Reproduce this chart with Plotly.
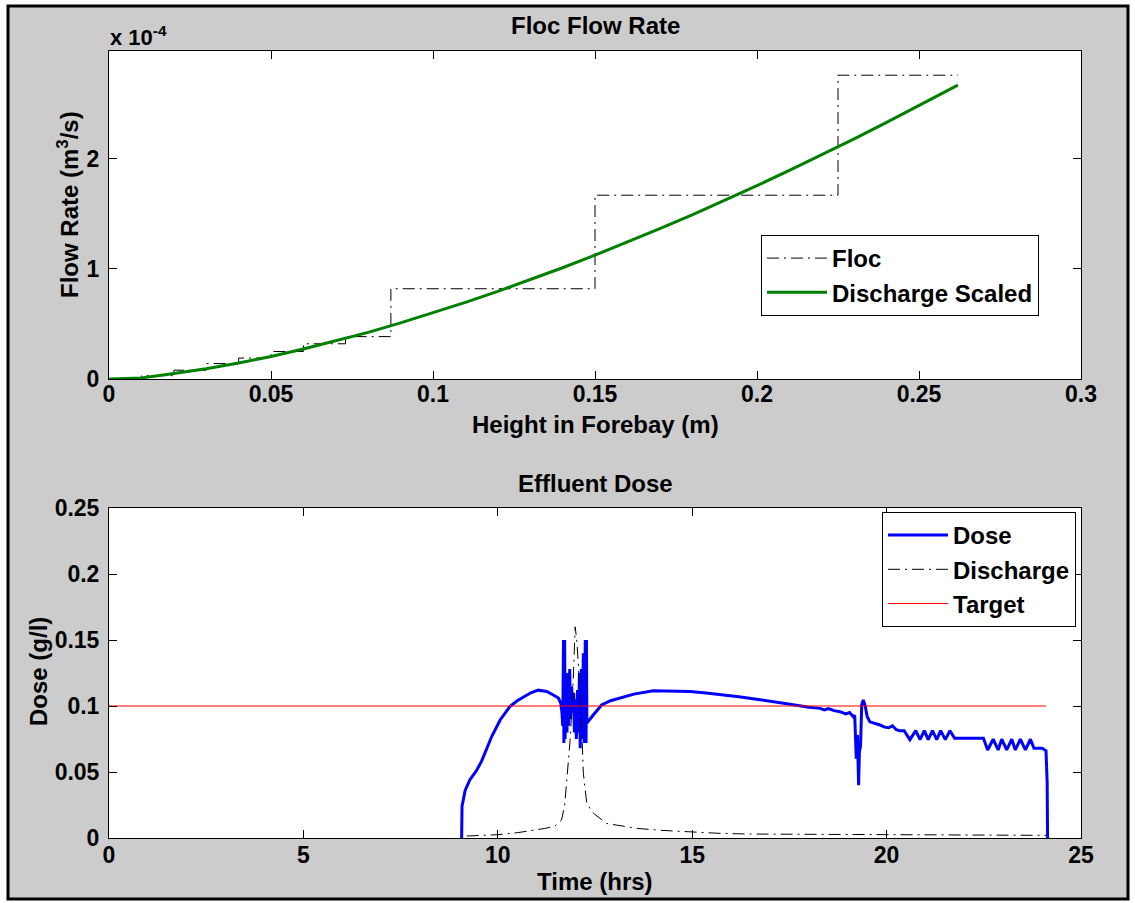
import plotly.graph_objects as go

# ---------------- data ----------------
# Top panel: Floc Flow Rate (flow values in units of 1e-4 m^3/s)
height_m = [0.0, 0.01, 0.02, 0.03, 0.04, 0.05, 0.06, 0.07, 0.08, 0.09, 0.10, 0.11, 0.12,
            0.13, 0.14, 0.15, 0.16, 0.17, 0.18, 0.19, 0.20, 0.21, 0.22, 0.23, 0.24, 0.25, 0.262]
discharge_scaled = [0.0, 0.01, 0.049, 0.093, 0.145, 0.205, 0.272, 0.345, 0.424, 0.510, 0.600,
                    0.696, 0.796, 0.901, 1.011, 1.125, 1.243, 1.366, 1.492, 1.623, 1.757,
                    1.895, 2.037, 2.182, 2.331, 2.483, 2.67]

floc_h = [0.0, 0.01, 0.02, 0.03, 0.04, 0.05, 0.06, 0.073, 0.087, 0.15, 0.225, 0.262]
floc_q = [0.0, 0.03, 0.08, 0.14, 0.19, 0.25, 0.32, 0.385, 0.82, 1.67, 2.76, 2.76]

x1_tickvals = [0, 0.05, 0.1, 0.15, 0.2, 0.25, 0.3]
x1_ticktext = ["0", "0.05", "0.1", "0.15", "0.2", "0.25", "0.3"]
y1_tickvals = [0, 1, 2]
y1_ticktext = ["0", "1", "2"]

# Bottom panel: Effluent Dose
dose_t = [9.07, 9.08, 9.16, 9.28, 9.45, 9.58, 9.72, 9.84, 10.06, 10.31, 10.50, 10.66, 10.85,
          11.04, 11.26, 11.45, 11.56, 11.62, 11.65, 11.67,
          11.69, 11.70, 11.72, 11.73, 11.76, 11.78, 11.80, 11.82, 11.85, 11.87, 11.90, 11.92,
          11.95, 11.97, 12.00, 12.02, 12.05, 12.07, 12.10, 12.12, 12.15, 12.17, 12.20, 12.22,
          12.25, 12.27, 12.28, 12.29,
          12.45, 12.67, 12.90, 13.14, 13.5, 14.0, 14.5, 14.94, 15.3, 15.72, 16.2, 16.7, 17.2,
          17.6, 17.8, 18.0, 18.29, 18.4, 18.5, 18.65, 18.80, 18.95, 19.05, 19.14, 19.18,
          19.22, 19.25, 19.28, 19.30, 19.33, 19.36, 19.40, 19.45, 19.50, 19.57, 19.70, 19.83,
          19.95, 20.05, 20.15, 20.25, 20.34, 20.45,
          20.60, 20.75, 20.86, 20.97, 21.07, 21.18, 21.29, 21.39, 21.51, 21.63, 21.75, 22.49,
          22.60, 22.74, 22.87, 22.96, 23.09, 23.22, 23.31, 23.44, 23.57, 23.70, 23.79,
          24.00, 24.10, 24.13, 24.14]
dose_v = [0.0, 0.024, 0.036, 0.044, 0.051, 0.058, 0.068, 0.0767, 0.0894, 0.0995, 0.104, 0.107, 0.110,
          0.112, 0.111, 0.108, 0.106, 0.102, 0.095, 0.085,
          0.150, 0.072, 0.150, 0.075, 0.120, 0.080, 0.125, 0.085, 0.128, 0.090, 0.115, 0.095,
          0.110, 0.080, 0.105, 0.075, 0.112, 0.080, 0.125, 0.068, 0.128, 0.075, 0.140, 0.072,
          0.150, 0.072, 0.150, 0.087,
          0.093, 0.1008, 0.104, 0.106, 0.109, 0.1116, 0.1115, 0.111, 0.110, 0.1088, 0.107, 0.105, 0.103,
          0.101, 0.100, 0.099, 0.0982, 0.097, 0.098, 0.0965, 0.0957, 0.094, 0.095, 0.0919, 0.093,
          0.060, 0.078, 0.040, 0.065, 0.070, 0.101, 0.1045, 0.100, 0.092, 0.088, 0.087, 0.0856,
          0.084, 0.0835, 0.085, 0.082, 0.0813, 0.0813,
          0.0745, 0.0813, 0.0745, 0.0813, 0.0745, 0.0813, 0.0745, 0.0813, 0.0745, 0.0813, 0.0755, 0.0755,
          0.0667, 0.0748, 0.0667, 0.0748, 0.0667, 0.0748, 0.0667, 0.0748, 0.0667, 0.0748, 0.068,
          0.068, 0.066, 0.042, 0.0]

disch_t = [9.2, 9.5, 10.0, 10.5, 10.83, 11.2, 11.47, 11.64, 11.72, 11.77, 11.86, 11.94, 11.99,
           12.03, 12.07, 12.16, 12.20, 12.29, 12.46, 12.8, 13.2, 13.57, 14.2, 14.86, 15.72, 16.5,
           17.5, 18.5, 19.5, 20.5, 21.5, 22.5, 23.5, 24.1]
disch_v = [0.0015, 0.0018, 0.0025, 0.004, 0.0055, 0.0072, 0.009, 0.0136, 0.025, 0.044, 0.074,
           0.12, 0.160, 0.150, 0.1325, 0.082, 0.049, 0.026, 0.0187, 0.011, 0.0088, 0.0073, 0.0058,
           0.0048, 0.0035, 0.003, 0.0028, 0.0026, 0.0024, 0.0023, 0.0022, 0.0021, 0.002, 0.002]

target_t = [0.0, 24.1]
target_v = [0.1, 0.1]

x2_tickvals = [0, 5, 10, 15, 20, 25]
x2_ticktext = ["0", "5", "10", "15", "20", "25"]
y2_tickvals = [0, 0.05, 0.1, 0.15, 0.2, 0.25]
y2_ticktext = ["0", "0.05", "0.1", "0.15", "0.2", "0.25"]

# ---------------- layout geometry (pixels) ----------------
W, H = 1135, 903
L, R = 109, 1081
T1, B1 = 51, 379
T2, B2 = 508, 838


def px(xp):
    return (xp - L) / (R - L)


def py(yp):
    return (B2 - yp) / (B2 - T1)


FONT = "Liberation Sans, Arial, Helvetica, sans-serif"
DASHDOT = "12px,5px,2px,5px"

fig = go.Figure()

fig.add_trace(go.Scatter(x=floc_h, y=floc_q, mode="lines", name="Floc",
                         line=dict(color="black", width=1, dash=DASHDOT, shape="hv"),
                         xaxis="x", yaxis="y", legend="legend"))
fig.add_trace(go.Scatter(x=height_m, y=discharge_scaled, mode="lines", name="Discharge Scaled",
                         line=dict(color="#008000", width=3),
                         xaxis="x", yaxis="y", legend="legend"))

fig.add_trace(go.Scatter(x=dose_t, y=dose_v, mode="lines", name="Dose",
                         line=dict(color="#0000ff", width=3),
                         xaxis="x2", yaxis="y2", legend="legend2"))
fig.add_trace(go.Scatter(x=disch_t, y=disch_v, mode="lines", name="Discharge",
                         line=dict(color="black", width=1, dash=DASHDOT),
                         xaxis="x2", yaxis="y2", legend="legend2"))
fig.add_trace(go.Scatter(x=target_t, y=target_v, mode="lines", name="Target",
                         line=dict(color="#ff0000", width=1.2),
                         xaxis="x2", yaxis="y2", legend="legend2"))

tickfont = dict(family=FONT, size=23, color="black", weight="bold")
axis_common = dict(showline=True, linecolor="black", linewidth=1, mirror="allticks",
                   ticks="inside", ticklen=8, tickwidth=1, tickcolor="black",
                   showgrid=False, zeroline=False, tickfont=tickfont)

legend_common = dict(xanchor="left", yanchor="top", bgcolor="white", bordercolor="black",
                     borderwidth=1, itemwidth=60,
                     font=dict(family=FONT, size=24, color="black", weight="bold"))

fig.update_layout(
    width=W, height=H,
    margin=dict(l=L, r=W - R, t=T1, b=H - B2, pad=0),
    paper_bgcolor="white", plot_bgcolor="white",
    showlegend=True,
    xaxis=dict(domain=[0, 1], anchor="y", range=[0, 0.3], tickmode="array",
               tickvals=x1_tickvals, ticktext=x1_ticktext, ticklabelstandoff=-6, **axis_common),
    yaxis=dict(domain=[py(B1), 1], anchor="x", range=[0, 2.98], tickmode="array",
               tickvals=y1_tickvals, ticktext=y1_ticktext, ticklabelstandoff=4, **axis_common),
    xaxis2=dict(domain=[0, 1], anchor="y2", range=[0, 25], tickmode="array",
                tickvals=x2_tickvals, ticktext=x2_ticktext, ticklabelstandoff=-4, **axis_common),
    yaxis2=dict(domain=[0, py(T2)], anchor="x2", range=[0, 0.25], tickmode="array",
                tickvals=y2_tickvals, ticktext=y2_ticktext, ticklabelstandoff=4, **axis_common),
    legend=dict(x=px(761), y=py(235), **legend_common),
    legend2=dict(x=px(882), y=py(512), **legend_common),
)

# Background: gray figure panel with black frame, white plot areas
fig.add_shape(type="rect", xref="paper", yref="paper", layer="below",
              x0=px(8), x1=px(1128), y0=py(899), y1=py(6),
              fillcolor="#cccccc", line=dict(color="black", width=3))
fig.add_shape(type="rect", xref="paper", yref="paper", layer="below",
              x0=0, x1=1, y0=py(B1), y1=1, fillcolor="white", line=dict(width=0))
fig.add_shape(type="rect", xref="paper", yref="paper", layer="below",
              x0=0, x1=1, y0=0, y1=py(T2), fillcolor="white", line=dict(width=0))

textfont = dict(family=FONT, size=24, color="black", weight="bold")
ann = [
    dict(text="Floc Flow Rate", x=0.5, y=py(25)),
    dict(text="Effluent Dose", x=0.5, y=py(483)),
    dict(text="Height in Forebay (m)", x=0.5, y=py(424)),
    dict(text="Time (hrs)", x=0.5, y=py(882)),
    dict(text="Flow Rate (m<sup>3</sup>/s)", x=px(68), y=py(205), textangle=-90),
    dict(text="Dose (g/l)", x=px(38), y=py(672), textangle=-90),
]
for a in ann:
    fig.add_annotation(xref="paper", yref="paper", showarrow=False,
                       xanchor="center", yanchor="middle", font=textfont, **a)
fig.add_annotation(xref="paper", yref="paper", showarrow=False, text="x 10<sup>-4</sup>",
                   x=px(108), y=py(36), xanchor="left", yanchor="middle",
                   font=dict(family=FONT, size=22, color="black", weight="bold"))

fig.write_html("out.html")
